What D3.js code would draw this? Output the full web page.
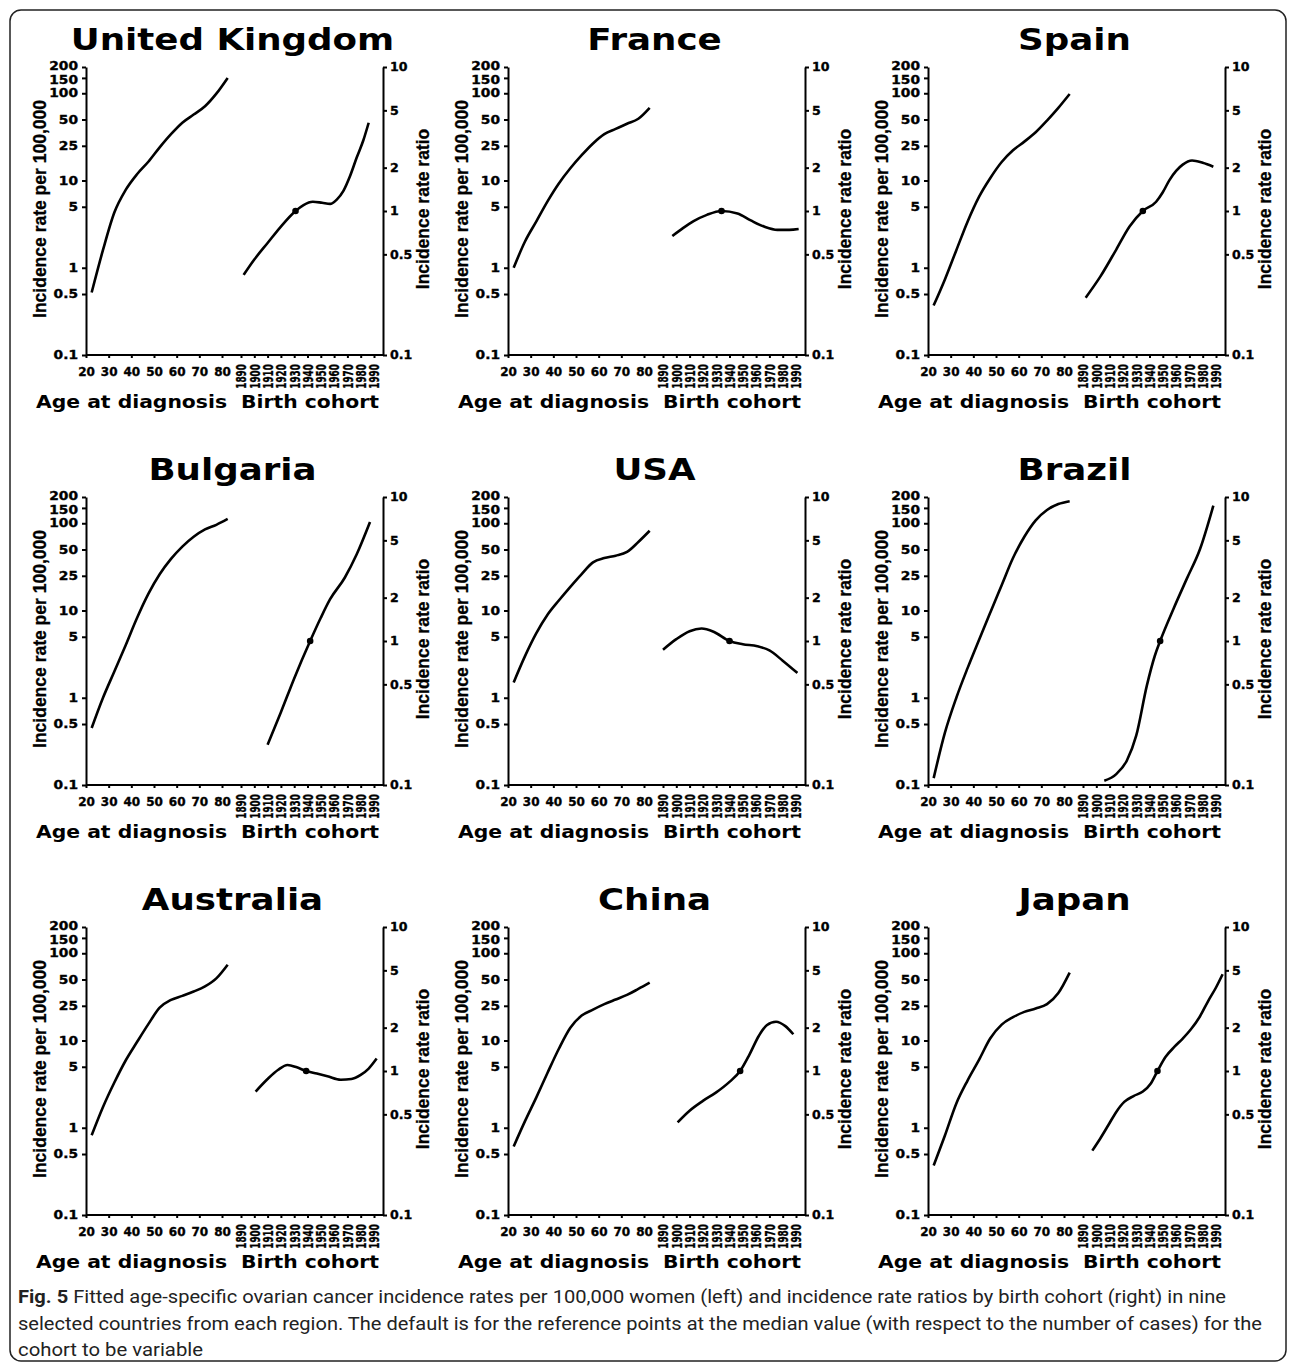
<!DOCTYPE html>
<html>
<head>
<meta charset="utf-8">
<script src="https://cdn.jsdelivr.net/npm/d3@7"></script>
<style>
  body { margin: 0; background: #fff; }
  svg { display: block; }
  .axis path, .axis line { stroke: #000; stroke-width: 2; }
  .axis text { font-family: "DejaVu Sans", sans-serif; font-weight: bold; fill: #000; stroke: #000; stroke-width: 0.35; }
  .heavy { font-family: "DejaVu Sans", sans-serif; font-weight: bold; fill: #000; }
  .ylab { font-family: "Liberation Sans", Arial, sans-serif; font-weight: bold; font-size: 17.5px; fill: #000; stroke: #000; stroke-width: 0.3; }
</style>
</head>
<body>
<div id="chart"></div>
<script>
const countries = ["United Kingdom", "France", "Spain", "Bulgaria", "USA", "Brazil", "Australia", "China", "Japan"];

// age group midpoints (years)
const ageMid = [22.5, 27.5, 32.5, 37.5, 42.5, 47.5, 52.5, 57.5, 62.5, 67.5, 72.5, 77.5, 82.5];

// fitted incidence per 100,000, one row per country
const ageRates = [
    [0.52, 1.6, 4.3, 7.8, 11.8, 16.4, 24, 34, 46, 57, 71, 99, 150],
    [1.0, 2.0, 3.4, 5.8, 9.3, 13.8, 19.5, 26.6, 34, 39, 44.7, 51, 68],
    [0.37, 0.74, 1.59, 3.4, 6.5, 10.7, 16.3, 22.2, 27.9, 35.7, 48.6, 68, 98],
    [0.45, 1.0, 2.0, 4.0, 8.2, 15.5, 26, 39, 54, 70, 85, 96, 112],
    [1.5, 3.0, 5.5, 9.0, 13.1, 18.7, 26.2, 35.6, 39.9, 42.5, 46.9, 61, 82],
    [0.12, 0.4, 1.0, 2.2, 4.6, 9.5, 19.5, 40, 70, 108, 142, 166, 179],
    [0.82, 1.73, 3.3, 5.9, 9.6, 15.4, 23.8, 29.2, 32.5, 36.4, 41.7, 51.6, 74],
    [0.61, 1.19, 2.23, 4.3, 8.1, 14, 19.3, 22.6, 26.1, 29.5, 33.3, 39, 46],
    [0.37, 0.82, 1.9, 3.5, 6.0, 10.6, 15.2, 18.5, 21.3, 23.3, 26.1, 35, 60]
];

// birth cohorts and incidence rate ratios, one row per country
const cohortYears = [
    [1892, 1900, 1910, 1920, 1931, 1937, 1944, 1951, 1957, 1962, 1967, 1972, 1977, 1982, 1986],
    [1897, 1905, 1913, 1923, 1934, 1946, 1956, 1966, 1976, 1985, 1992],
    [1892, 1903, 1915, 1925, 1935, 1945, 1950, 1955, 1960, 1965, 1972, 1980, 1988],
    [1910, 1920, 1930, 1942, 1950, 1957, 1968, 1977, 1987],
    [1890, 1900, 1910, 1919, 1928, 1940, 1950, 1961, 1970, 1980, 1991],
    [1906, 1915, 1923, 1930, 1938, 1944, 1948, 1958, 1968, 1978, 1988],
    [1901, 1910, 1918, 1925, 1932, 1939, 1947, 1955, 1965, 1973, 1980, 1986, 1992],
    [1901, 1910, 1920, 1930, 1940, 1948, 1955, 1962, 1968, 1975, 1982, 1988],
    [1897, 1903, 1909, 1915, 1921, 1928, 1935, 1941, 1946, 1952, 1959, 1965, 1971, 1978, 1984, 1990, 1995]
];
const cohortRatios = [
    [0.36, 0.46, 0.6, 0.78, 1.0, 1.1, 1.16, 1.14, 1.12, 1.2, 1.38, 1.75, 2.35, 3.1, 4.1],
    [0.67, 0.76, 0.85, 0.94, 1.0, 0.96, 0.86, 0.78, 0.74, 0.74, 0.75],
    [0.25, 0.35, 0.54, 0.78, 1.0, 1.16, 1.35, 1.64, 1.9, 2.1, 2.24, 2.16, 2.03],
    [0.19, 0.32, 0.55, 1.0, 1.45, 1.95, 2.75, 4.0, 6.7],
    [0.87, 1.03, 1.17, 1.22, 1.16, 1.0, 0.95, 0.92, 0.86, 0.73, 0.60],
    [0.107, 0.119, 0.148, 0.22, 0.49, 0.79, 1.0, 1.67, 2.7, 4.35, 8.7],
    [0.72, 0.88, 1.02, 1.1, 1.06, 1.0, 0.96, 0.92, 0.87, 0.88, 0.94, 1.04, 1.22],
    [0.44, 0.53, 0.62, 0.71, 0.84, 1.0, 1.3, 1.75, 2.08, 2.2, 2.05, 1.8],
    [0.28, 0.34, 0.42, 0.52, 0.61, 0.67, 0.72, 0.82, 1.0, 1.25, 1.48, 1.68, 1.94, 2.4, 3.05, 3.8, 4.7]
];
// reference cohort (ratio = 1)
const refCohort = [1931, 1934, 1935, 1942, 1940, 1948, 1939, 1948, 1946];

const rateTicks = [0.1, 0.5, 1, 5, 10, 25, 50, 100, 150, 200];
const ratioTicks = [0.1, 0.5, 1, 2, 5, 10];
const ageTicks = [20, 30, 40, 50, 60, 70, 80];
const cohortTicks = [1890, 1900, 1910, 1920, 1930, 1940, 1950, 1960, 1970, 1980, 1990];

const captionLines = [
    " Fitted age-specific ovarian cancer incidence rates per 100,000 women (left) and incidence rate ratios by birth cohort (right) in nine",
    "selected countries from each region. The default is for the reference points at the median value (with respect to the number of cases) for the",
    "cohort to be variable"
];

const W = 1292, H = 1364;
const colX = [86, 508, 928], rowY = [67, 497, 927];
const pw = 297, ph = 288;

const svg = d3.select("#chart")
    .append("svg")
    .attr("width", W)
    .attr("height", H);

svg.append("rect")
    .attr("x", 10).attr("y", 10)
    .attr("width", 1276).attr("height", 1351)
    .attr("rx", 11)
    .attr("fill", "none")
    .attr("stroke", "#222")
    .attr("stroke-width", 1.5);

countries.forEach((name, i) => {
    const L = colX[i % 3], T = rowY[Math.floor(i / 3)];
    const g = svg.append("g").attr("transform", `translate(${L},${T})`);

    const yRate = d3.scaleLog().domain([0.1, 200]).range([ph, 0]);
    const yRatio = d3.scaleLog().domain([0.1, 10]).range([ph, 0]);
    const xAge = d3.scaleLinear().domain([20, 80]).range([0, 136]);
    const xCoh = d3.scaleLinear().domain([1890, 1990]).range([155, 288]);

    // left axis; 200 and 150 sit very close, nudge them apart a little
    g.append("g").attr("class", "axis")
        .call(d3.axisLeft(yRate).tickValues(rateTicks).tickFormat(d => d)
            .tickSize(4).tickPadding(4).tickSizeOuter(0))
        .selectAll("text")
        .style("font-size", "11.5px")
        .attr("x", 0)
        .attr("transform", d => {
            const nudge = d === 200 ? -1.5 : d === 150 ? 1.5 : 0;
            return `translate(-8,${nudge}) scale(1.2,1)`;
        });

    // right axis
    g.append("g").attr("class", "axis")
        .attr("transform", `translate(${pw},0)`)
        .call(d3.axisRight(yRatio).tickValues(ratioTicks).tickFormat(d => d)
            .tickSize(4).tickPadding(4).tickSizeOuter(0))
        .selectAll("text")
        .style("font-size", "12px")
        .attr("x", 0)
        .attr("transform", "translate(7,0) scale(1.05,1)");

    // bottom axes: age and birth cohort share one baseline
    const ageAx = g.append("g").attr("class", "axis")
        .attr("transform", `translate(0,${ph})`)
        .call(d3.axisBottom(xAge).tickValues(ageTicks).tickSize(3).tickPadding(9));
    ageAx.select(".domain").remove();
    ageAx.selectAll("text").style("font-size", "12px");

    const cohAx = g.append("g").attr("class", "axis")
        .attr("transform", `translate(0,${ph})`)
        .call(d3.axisBottom(xCoh).tickValues(cohortTicks).tickFormat(d => d).tickSize(3));
    cohAx.select(".domain").remove();
    cohAx.selectAll("text")
        .style("font-size", "13.5px")
        .attr("x", 0).attr("y", 0)
        .attr("dy", "0.36em")
        .attr("text-anchor", "end")
        .attr("transform", "translate(0,9) rotate(-90) scale(0.66,1)");

    g.append("line")
        .attr("x1", 0).attr("x2", pw)
        .attr("y1", ph).attr("y2", ph)
        .attr("stroke", "#000").attr("stroke-width", 2);

    // curves
    const ageLine = d3.line()
        .x(d => xAge(d[0]))
        .y(d => yRate(d[1]))
        .curve(d3.curveMonotoneX);
    const cohLine = d3.line()
        .x(d => xCoh(d[0]))
        .y(d => yRatio(d[1]))
        .curve(d3.curveMonotoneX);

    g.append("path")
        .datum(d3.zip(ageMid, ageRates[i]))
        .attr("d", ageLine)
        .attr("fill", "none").attr("stroke", "#000").attr("stroke-width", 2.6);

    g.append("path")
        .datum(d3.zip(cohortYears[i], cohortRatios[i]))
        .attr("d", cohLine)
        .attr("fill", "none").attr("stroke", "#000").attr("stroke-width", 2.6);

    g.append("circle")
        .attr("cx", xCoh(refCohort[i]))
        .attr("cy", yRatio(1))
        .attr("r", 3.3)
        .attr("fill", "#000");

    // titles
    g.append("text")
        .attr("class", "heavy")
        .attr("transform", `translate(${pw / 2 - 2},-17) scale(1.15,1)`)
        .attr("text-anchor", "middle")
        .style("font-size", "31px")
        .text(name);

    g.append("text")
        .attr("class", "ylab")
        .attr("transform", `translate(-40,${ph / 2 - 2}) rotate(-90)`)
        .attr("text-anchor", "middle")
        .text("Incidence rate per 100,000");

    g.append("text")
        .attr("class", "ylab")
        .attr("transform", `translate(${pw + 46},${ph / 2 - 2}) rotate(-90)`)
        .attr("text-anchor", "middle")
        .text("Incidence rate ratio");

    g.append("text")
        .attr("class", "heavy")
        .attr("transform", `translate(-50,${ph + 53}) scale(1.13,1)`)
        .attr("text-anchor", "start")
        .style("font-size", "18px")
        .text("Age at diagnosis");

    g.append("text")
        .attr("class", "heavy")
        .attr("transform", `translate(${pw - 4},${ph + 53}) scale(1.13,1)`)
        .attr("text-anchor", "end")
        .style("font-size", "18px")
        .text("Birth cohort");
});

// caption
const capWidths = [1208, 1244, 185];
const capY = [1303, 1330, 1356];
captionLines.forEach((t, k) => {
    const txt = svg.append("text")
        .attr("x", 18).attr("y", capY[k])
        .attr("textLength", capWidths[k])
        .attr("lengthAdjust", "spacingAndGlyphs")
        .style("font-family", "Liberation Sans Narrow, Roboto, Noto Sans, sans-serif")
        .style("font-size", "19px")
        .style("fill", "#222");
    if (k === 0) {
        txt.append("tspan").style("font-weight", "bold").text("Fig. 5");
    }
    txt.append("tspan").text(t);
});
</script>
</body>
</html>
